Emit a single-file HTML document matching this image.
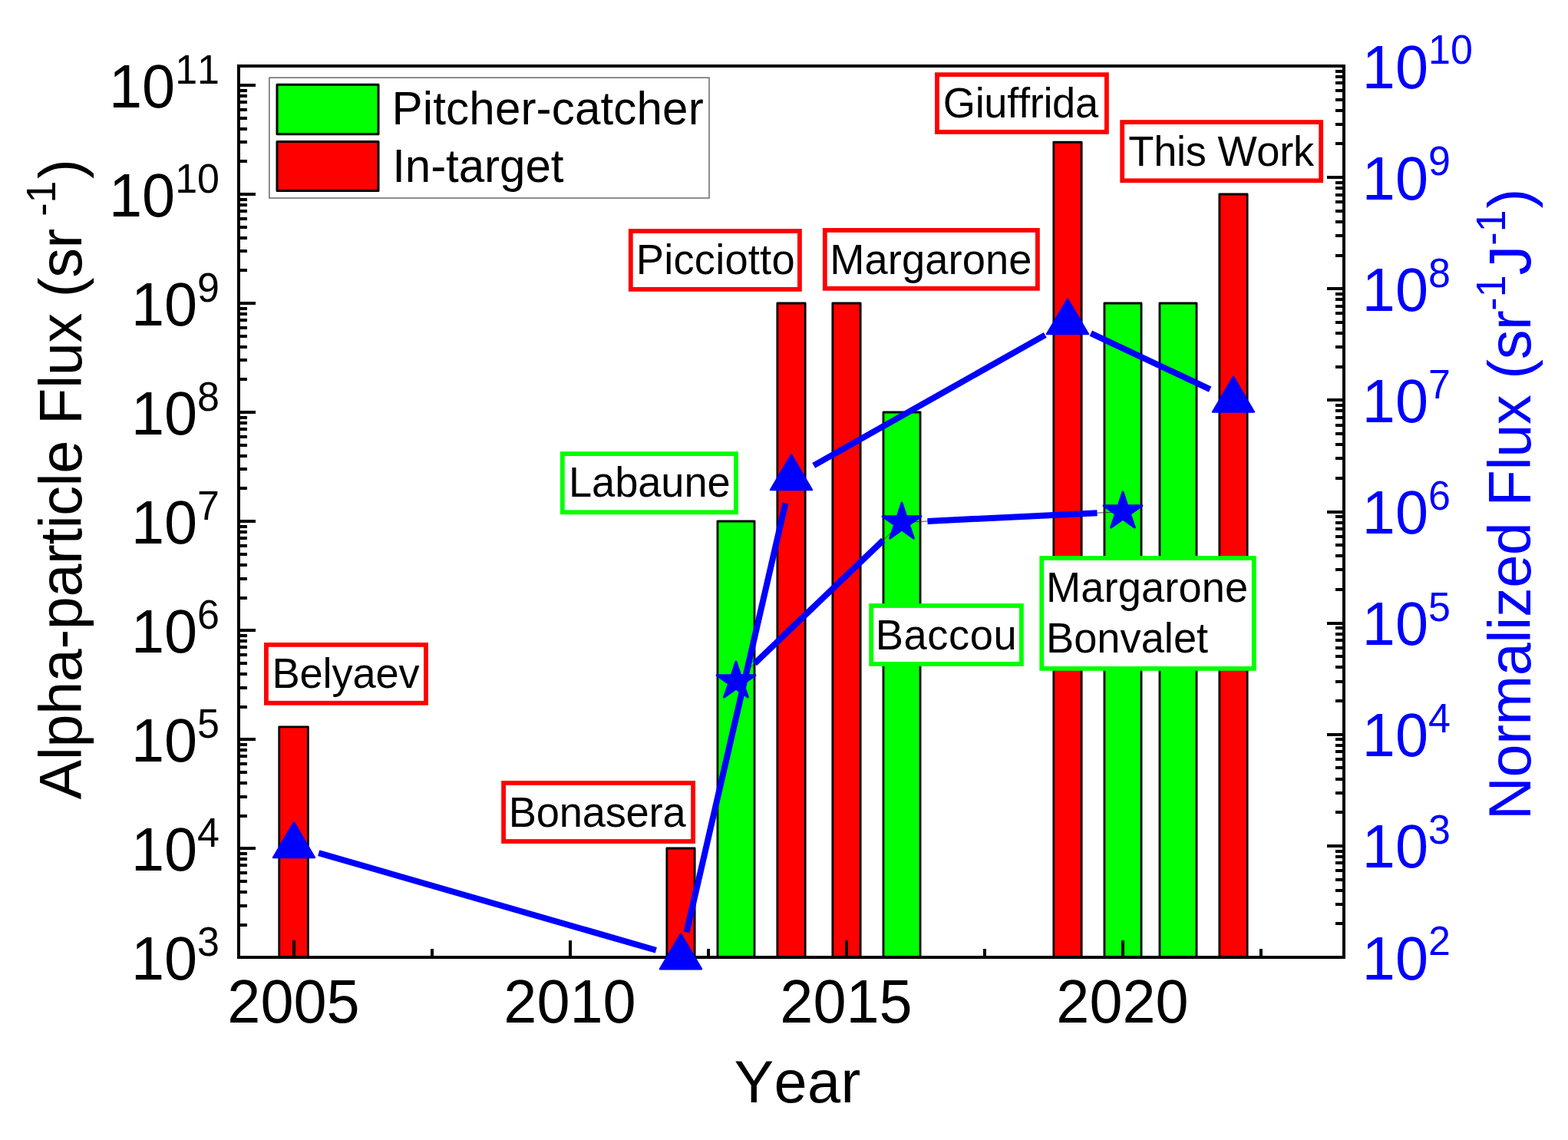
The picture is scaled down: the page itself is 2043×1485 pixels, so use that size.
<!DOCTYPE html>
<html lang="en"><head><meta charset="utf-8"><title>Alpha-particle Flux vs Year</title>
<style>html,body{margin:0;padding:0;background:#fff;overflow:hidden}svg{display:block}text{font-family:"Liberation Sans",sans-serif;font-kerning:none;font-variant-ligatures:none}</style></head><body>
<svg width="2043" height="1485" viewBox="0 0 2043 1485" role="img" aria-label="Alpha-particle flux versus year">
<rect x="0" y="0" width="2043" height="1485" fill="#fff"/>
<g stroke="#000" stroke-width="2.8" stroke-linejoin="round">
<rect x="363.75" y="946.82" width="37.6" height="300.18" fill="#ff0000"/>
<rect x="868.85" y="1105" width="36.3" height="142" fill="#ff0000"/>
<rect x="934.95" y="679" width="48.1" height="568" fill="#00ff00"/>
<rect x="1012.85" y="395" width="36.3" height="852" fill="#ff0000"/>
<rect x="1084.85" y="395" width="36.3" height="852" fill="#ff0000"/>
<rect x="1150.95" y="537" width="48.1" height="710" fill="#00ff00"/>
<rect x="1372.85" y="185.249" width="36.3" height="1061.751" fill="#ff0000"/>
<rect x="1438.95" y="395" width="48.1" height="852" fill="#00ff00"/>
<rect x="1510.95" y="395" width="48.1" height="852" fill="#00ff00"/>
<rect x="1588.85" y="253" width="36.3" height="994" fill="#ff0000"/>
</g>
<g stroke="#000" stroke-width="4" fill="none" stroke-linecap="butt">
<path d="M311 1205h11M311 1180h11M311 1162h11M311 1148h11M311 1137h11M311 1127h11M311 1119h11M311 1112h11M311 1105h22M311 1063h11M311 1038h11M311 1020h11M311 1006h11M311 995h11M311 985h11M311 977h11M311 970h11M311 963h22M311 921h11M311 896h11M311 878h11M311 864h11M311 853h11M311 843h11M311 835h11M311 828h11M311 821h22M311 779h11M311 754h11M311 736h11M311 722h11M311 711h11M311 701h11M311 693h11M311 686h11M311 679h22M311 636h11M311 611h11M311 594h11M311 580h11M311 569h11M311 559h11M311 551h11M311 544h11M311 537h22M311 494h11M311 469h11M311 452h11M311 438h11M311 427h11M311 417h11M311 409h11M311 402h11M311 395h22M311 352h11M311 327h11M311 310h11M311 296h11M311 285h11M311 275h11M311 267h11M311 260h11M311 253h22M311 210h11M311 185h11M311 168h11M311 154h11M311 143h11M311 133h11M311 125h11M311 118h11M311 111h22M1751 1203h-11M1751 1178h-11M1751 1160h-11M1751 1146h-11M1751 1134h-11M1751 1124h-11M1751 1116h-11M1751 1109h-11M1751 1102h-22M1751 1058h-11M1751 1033h-11M1751 1015h-11M1751 1000h-11M1751 989h-11M1751 979h-11M1751 971h-11M1751 963h-11M1751 957h-22M1751 913h-11M1751 888h-11M1751 869h-11M1751 855h-11M1751 844h-11M1751 834h-11M1751 826h-11M1751 818h-11M1751 812h-22M1751 768h-11M1751 742h-11M1751 724h-11M1751 710h-11M1751 699h-11M1751 689h-11M1751 681h-11M1751 673h-11M1751 667h-22M1751 623h-11M1751 597h-11M1751 579h-11M1751 565h-11M1751 554h-11M1751 544h-11M1751 535h-11M1751 528h-11M1751 521h-22M1751 478h-11M1751 452h-11M1751 434h-11M1751 420h-11M1751 408h-11M1751 399h-11M1751 390h-11M1751 383h-11M1751 376h-22M1751 333h-11M1751 307h-11M1751 289h-11M1751 275h-11M1751 263h-11M1751 254h-11M1751 245h-11M1751 238h-11M1751 231h-22M1751 187h-11M1751 162h-11M1751 144h-11M1751 130h-11M1751 118h-11M1751 108h-11M1751 100h-11M1751 93h-11M383 1247v-22M563 1247v-11M743 1247v-22M923 1247v-11M1103 1247v-22M1283 1247v-11M1463 1247v-22M1643 1247v-11"/>
<rect x="311" y="86" width="1440" height="1161" stroke-linejoin="miter"/>
</g>
<path d="M959 887.508L1175 680.564M1175 680.564L1463 666.5" stroke="#333" stroke-width="0.9" fill="none"/>
<path d="M415.192 1111.145L854.808 1237.73M894.531 1214.357L1023.469 655.456M1060.185 606.366L1361.815 436.384M1421.323 434.177L1576.677 507.135M983.19 864.332L1150.81 703.74M1208.46 678.93L1429.54 668.134" stroke="#0000ff" stroke-width="8" fill="none" stroke-linecap="butt"/>
<g fill="#0000ff" stroke="#0000ff" stroke-width="2.4" stroke-linejoin="round">
<path d="M383 1071.478L410 1117.074L356 1117.074Z"/>
<path d="M887 1216.603L914 1262.199L860 1262.199Z"/>
<path d="M1031 592.416L1058 638.012L1004 638.012Z"/>
<path d="M1391 389.539L1418 435.136L1364 435.136Z"/>
<path d="M1607 490.978L1634 536.574L1580 536.574Z"/>
<path d="M959 862.094L964.76 879.817L983.918 879.654L968.32 890.445L974.4 908.068L959 897.014L943.6 908.068L949.68 890.445L934.082 879.654L953.24 879.817Z" stroke-width="3"/>
<path d="M1175 655.15L1180.76 672.874L1199.918 672.711L1184.32 683.502L1190.4 701.124L1175 690.07L1159.6 701.124L1165.68 683.502L1150.082 672.711L1169.24 672.874Z" stroke-width="3"/>
<path d="M1463 641.086L1468.76 658.809L1487.918 658.647L1472.32 669.438L1478.4 687.06L1463 676.006L1447.6 687.06L1453.68 669.438L1438.082 658.647L1457.24 658.809Z" stroke-width="3"/>
</g>
<rect x="346.9" y="839.9" width="208.1" height="75.9" fill="#fff" stroke="#ff0000" stroke-width="5.8"/>
<text transform="translate(354.556 896) scale(1 1.015)" font-size="54.3" fill="#000" letter-spacing="-0.17">Belyaev</text>
<rect x="656.1" y="1019.9" width="247" height="76.1" fill="#fff" stroke="#ff0000" stroke-width="5.8"/>
<text transform="translate(662.856 1076.5) scale(1 1.015)" font-size="54.3" fill="#000" letter-spacing="-0.23">Bonasera</text>
<rect x="732.8" y="591.1" width="226.1" height="76.2" fill="#fff" stroke="#00ff00" stroke-width="5.8"/>
<text transform="translate(740.956 646.6) scale(1 1.015)" font-size="54.3" fill="#000" letter-spacing="-0.1">Labaune</text>
<rect x="821.8" y="301" width="220.1" height="75.9" fill="#fff" stroke="#ff0000" stroke-width="5.8"/>
<text transform="translate(828.856 356.7) scale(1 1.015)" font-size="54.3" fill="#000" letter-spacing="0.2">Picciotto</text>
<rect x="1074.8" y="299.9" width="277.1" height="75.9" fill="#fff" stroke="#ff0000" stroke-width="5.8"/>
<text transform="translate(1081.256 356.7) scale(1 1.015)" font-size="54.3" fill="#000" letter-spacing="0.1">Margarone</text>
<rect x="1135.2" y="789" width="195.7" height="75.9" fill="#fff" stroke="#00ff00" stroke-width="5.8"/>
<text transform="translate(1140.856 846) scale(1 1.015)" font-size="54.3" fill="#000" letter-spacing="0.54">Baccou</text>
<rect x="1357.3" y="727" width="276.5" height="143.9" fill="#fff" stroke="#00ff00" stroke-width="5.8"/>
<text transform="translate(1362.956 783.8) scale(1 1.015)" font-size="54.3" fill="#000" letter-spacing="0.1">Margarone</text>
<text transform="translate(1362.956 850.2) scale(1 1.015)" font-size="54.3" fill="#000">Bonvalet</text>
<rect x="1221" y="97.2" width="220.9" height="74.7" fill="#fff" stroke="#ff0000" stroke-width="5.8"/>
<text transform="translate(1228.785 152.9) scale(1 1.015)" font-size="54.3" fill="#000" letter-spacing="-0.35">Giuffrida</text>
<rect x="1462.2" y="159.1" width="259" height="76.2" fill="#fff" stroke="#ff0000" stroke-width="5.8"/>
<text transform="translate(1470.314 215.6) scale(1 1.015)" font-size="54.3" fill="#000" letter-spacing="-0.3">This Work</text>
<rect x="350.9" y="101.2" width="573.1" height="156.8" fill="#fff" stroke="#6a6a6a" stroke-width="1.5"/>
<rect x="361" y="110.3" width="132" height="64.4" fill="#00ff00" stroke="#000" stroke-linejoin="round" stroke-width="3"/>
<rect x="361" y="184.6" width="132" height="64" fill="#ff0000" stroke="#000" stroke-linejoin="round" stroke-width="3"/>
<text transform="translate(510.584 161.8) scale(1 1.015)" font-size="60.2" fill="#000" letter-spacing="0.1">Pitcher-catcher</text>
<text transform="translate(511.182 236.5) scale(1 1.015)" font-size="60.2" fill="#000" letter-spacing="-0.1">In-target</text>
<g font-size="77.5" fill="#000">
<text transform="translate(286 1276.3) scale(1 1.025)" text-anchor="end">10<tspan font-size="52" dy="-30.537">3</tspan></text>
<text transform="translate(286 1134.3) scale(1 1.025)" text-anchor="end">10<tspan font-size="52" dy="-30.537">4</tspan></text>
<text transform="translate(286 992.3) scale(1 1.025)" text-anchor="end">10<tspan font-size="52" dy="-30.537">5</tspan></text>
<text transform="translate(286 850.3) scale(1 1.025)" text-anchor="end">10<tspan font-size="52" dy="-30.537">6</tspan></text>
<text transform="translate(286 708.3) scale(1 1.025)" text-anchor="end">10<tspan font-size="52" dy="-30.537">7</tspan></text>
<text transform="translate(286 566.3) scale(1 1.025)" text-anchor="end">10<tspan font-size="52" dy="-30.537">8</tspan></text>
<text transform="translate(286 424.3) scale(1 1.025)" text-anchor="end">10<tspan font-size="52" dy="-30.537">9</tspan></text>
<text transform="translate(286 282.3) scale(1 1.025)" text-anchor="end">10<tspan font-size="52" dy="-30.537">10</tspan></text>
<text transform="translate(286 140.3) scale(1 1.025)" text-anchor="end">10<tspan font-size="52" dy="-30.537">11</tspan></text>
<text transform="translate(382.5 1331.6) scale(1 1.025)" text-anchor="middle">2005</text>
<text transform="translate(742.5 1331.6) scale(1 1.025)" text-anchor="middle">2010</text>
<text transform="translate(1102.5 1331.6) scale(1 1.025)" text-anchor="middle">2015</text>
<text transform="translate(1462.5 1331.6) scale(1 1.025)" text-anchor="middle">2020</text>
<text transform="translate(956.5 1435.6) scale(1 1.015)" letter-spacing="0.35">Year</text>
<text transform="translate(105.9 1041.5) rotate(-90) scale(1 1.015)" x="0" y="0"><tspan letter-spacing="-0.45">Alpha-particle Flux (sr</tspan><tspan font-size="52" dy="-33" dx="2"> -1</tspan><tspan dy="33" dx="2.5">)</tspan></text>
</g>
<g font-size="77.5" fill="#0000ff">
<text transform="translate(1774.8 1275.6) scale(1 1.025)">10<tspan font-size="52" dy="-30.537">2</tspan></text>
<text transform="translate(1774.8 1130.475) scale(1 1.025)">10<tspan font-size="52" dy="-30.537">3</tspan></text>
<text transform="translate(1774.8 985.35) scale(1 1.025)">10<tspan font-size="52" dy="-30.537">4</tspan></text>
<text transform="translate(1774.8 840.225) scale(1 1.025)">10<tspan font-size="52" dy="-30.537">5</tspan></text>
<text transform="translate(1774.8 695.1) scale(1 1.025)">10<tspan font-size="52" dy="-30.537">6</tspan></text>
<text transform="translate(1774.8 549.975) scale(1 1.025)">10<tspan font-size="52" dy="-30.537">7</tspan></text>
<text transform="translate(1774.8 404.85) scale(1 1.025)">10<tspan font-size="52" dy="-30.537">8</tspan></text>
<text transform="translate(1774.8 259.725) scale(1 1.025)">10<tspan font-size="52" dy="-30.537">9</tspan></text>
<text transform="translate(1774.8 114.6) scale(1 1.025)">10<tspan font-size="52" dy="-30.537">10</tspan></text>
<text transform="translate(1994.3 1068) rotate(-90) scale(1 1.015)" x="0" y="0"><tspan letter-spacing="-0.44">Normalized Flux (sr</tspan><tspan font-size="52" dy="-33">-1</tspan><tspan dy="33">J</tspan><tspan font-size="52" dy="-33">-1</tspan><tspan dy="33" dx="2">)</tspan></text>
</g>
</svg></body></html>
